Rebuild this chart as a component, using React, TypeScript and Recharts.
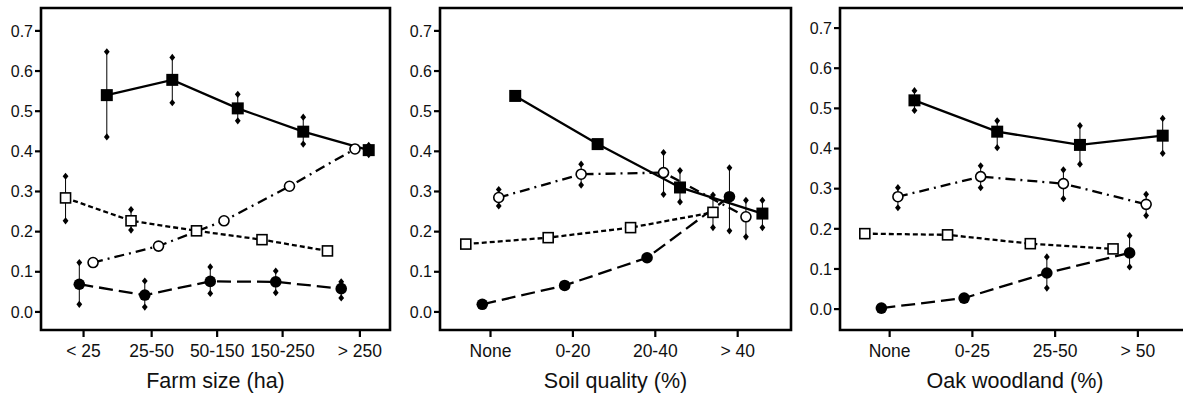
import { ComposedChart, ErrorBar, Line, ReferenceArea, Scatter, XAxis, YAxis } from "recharts";

// categories
const FARM_CATS = ["< 25", "25-50", "50-150", "150-250", "> 250"];
const SOIL_CATS = ["None", "0-20", "20-40", "> 40"];
const OAK_CATS = ["None", "0-25", "25-50", "> 50"];

const Y_TICKS = [0, 0.1, 0.2, 0.3, 0.4, 0.5, 0.6, 0.7];

// farm size panel: values and error bar bounds (null = no bar)
const FARM_FILLED_SQ = [0.54, 0.578, 0.507, 0.449, 0.403];
const FARM_FILLED_SQ_HI = [0.648, 0.634, 0.542, 0.485, 0.415];
const FARM_FILLED_SQ_LO = [0.436, 0.521, 0.476, 0.418, 0.392];
const FARM_OPEN_CIRC = [0.123, 0.164, 0.227, 0.313, 0.406];
const FARM_OPEN_SQ = [0.284, 0.227, 0.202, 0.18, 0.152];
const FARM_OPEN_SQ_HI = [0.338, 0.255, null, null, null];
const FARM_OPEN_SQ_LO = [0.227, 0.204, null, null, null];
const FARM_FILLED_CIRC = [0.069, 0.042, 0.076, 0.075, 0.058];
const FARM_FILLED_CIRC_HI = [0.123, 0.077, 0.112, 0.102, 0.075];
const FARM_FILLED_CIRC_LO = [0.019, 0.012, 0.046, 0.048, 0.035];

// soil quality panel
const SOIL_FILLED_SQ = [0.538, 0.418, 0.31, 0.245];
const SOIL_FILLED_SQ_HI = [null, null, 0.352, 0.278];
const SOIL_FILLED_SQ_LO = [null, null, 0.274, 0.21];
const SOIL_OPEN_CIRC = [0.285, 0.343, 0.347, 0.237];
const SOIL_OPEN_CIRC_HI = [0.305, 0.368, 0.397, 0.278];
const SOIL_OPEN_CIRC_LO = [0.264, 0.316, 0.293, 0.187];
const SOIL_OPEN_SQ = [0.169, 0.185, 0.21, 0.248];
const SOIL_OPEN_SQ_HI = [null, null, null, 0.291];
const SOIL_OPEN_SQ_LO = [null, null, null, 0.21];
const SOIL_FILLED_CIRC = [0.019, 0.066, 0.135, 0.287];
const SOIL_FILLED_CIRC_HI = [null, null, null, 0.359];
const SOIL_FILLED_CIRC_LO = [null, null, null, 0.202];

// oak woodland panel
const OAK_FILLED_SQ = [0.52, 0.442, 0.409, 0.432];
const OAK_FILLED_SQ_HI = [0.544, 0.469, 0.457, 0.475];
const OAK_FILLED_SQ_LO = [0.495, 0.402, 0.361, 0.388];
const OAK_OPEN_CIRC = [0.28, 0.33, 0.3125, 0.261];
const OAK_OPEN_CIRC_HI = [0.3025, 0.357, 0.347, 0.286];
const OAK_OPEN_CIRC_LO = [0.2525, 0.3025, 0.275, 0.233];
const OAK_OPEN_SQ = [0.188, 0.185, 0.163, 0.15];
const OAK_FILLED_CIRC = [0.0025, 0.0275, 0.09, 0.14];
const OAK_FILLED_CIRC_HI = [null, null, 0.13, 0.183];
const OAK_FILLED_CIRC_LO = [null, null, 0.0525, 0.105];

type Bound = (number | null)[];
type Kind = "openSquare" | "filledCircle" | "openCircle" | "filledSquare";
type Series = { name: string; kind: Kind; values: number[]; hi?: Bound; lo?: Bound };

// dodge slot and line dash per marker kind
const STYLE: Record<Kind, { slot: number; dash?: string }> = {
  openSquare: { slot: 0, dash: "5 3" },
  filledCircle: { slot: 1, dash: "14 6" },
  openCircle: { slot: 2, dash: "10 5 2 5" },
  filledSquare: { slot: 3 },
};

function Marker({ cx, cy, kind }: { cx?: number; cy?: number; kind: Kind }) {
  if (cx == null || cy == null) return null;
  if (kind === "filledSquare")
    return <rect x={cx - 6} y={cy - 6} width={12} height={12} fill="#000" />;
  if (kind === "openSquare")
    return (
      <rect x={cx - 5} y={cy - 5} width={10} height={10} fill="#fff" stroke="#000" strokeWidth={1.6} />
    );
  if (kind === "openCircle")
    return <circle cx={cx} cy={cy} r={5} fill="#fff" stroke="#000" strokeWidth={1.6} />;
  return <circle cx={cx} cy={cy} r={5.8} fill="#000" />;
}

function Diamond(props: any) {
  const { cx, cy } = props;
  if (cx == null || cy == null) return null;
  return (
    <polygon
      points={`${cx},${cy - 3.6} ${cx + 2.9},${cy} ${cx},${cy + 3.6} ${cx - 2.9},${cy}`}
      fill="#000"
    />
  );
}

function points(s: Series, dodge: number) {
  const off = (STYLE[s.kind].slot - 1.5) * dodge;
  return s.values.map((v, i) => {
    const h = s.hi?.[i];
    const l = s.lo?.[i];
    return {
      x: i + off,
      y: v,
      err: h != null && l != null ? [v - l, h - v] : undefined,
    };
  });
}

function ends(s: Series, dodge: number) {
  const off = (STYLE[s.kind].slot - 1.5) * dodge;
  const out: { x: number; y: number }[] = [];
  s.values.forEach((_, i) => {
    const h = s.hi?.[i];
    const l = s.lo?.[i];
    if (h != null) out.push({ x: i + off, y: h });
    if (l != null) out.push({ x: i + off, y: l });
  });
  return out;
}

type PanelProps = {
  left: number;
  width: number;
  cats: string[];
  xDomain: [number, number];
  ticks: number[];
  dodge: number;
  yDomain: [number, number];
  title: string;
  series: Series[];
};

function Panel({ left, width, cats, xDomain, ticks, dodge, yDomain, title, series }: PanelProps) {
  return (
    <div style={{ position: "absolute", left, top: 0 }}>
      <ComposedChart width={width} height={397} margin={{ top: 8, right: 2, bottom: 0, left: 0 }}>
        <XAxis
          type="number"
          dataKey="x"
          domain={xDomain}
          allowDataOverflow
          ticks={ticks}
          interval={0}
          tickFormatter={(v: number) => cats[Math.round(v)] ?? ""}
          axisLine={false}
          tickLine={{ stroke: "#000", strokeWidth: 2.2 }}
          tickSize={7}
          tickMargin={8}
          height={67}
          tick={{ fill: "#111", fontSize: 17.5 }}
          label={{ value: title, position: "insideBottom", offset: 9, fill: "#111", fontSize: 21.5 }}
        />
        <YAxis
          type="number"
          dataKey="y"
          domain={yDomain}
          allowDataOverflow
          ticks={Y_TICKS}
          interval={0}
          tickFormatter={(v: number) => v.toFixed(1)}
          axisLine={false}
          tickLine={{ stroke: "#000", strokeWidth: 2.2 }}
          tickSize={6}
          tickMargin={2}
          width={41}
          tick={{ fill: "#111", fontSize: 16 }}
        />
        <ReferenceArea
          x1={xDomain[0]}
          x2={xDomain[1]}
          y1={yDomain[0]}
          y2={yDomain[1]}
          fill="#fff"
          fillOpacity={0}
          stroke="#000"
          strokeWidth={2.6}
        />
        {series.map((s) => (
          <Scatter
            key={s.name + "-ends"}
            data={ends(s, dodge)}
            shape={Diamond}
            isAnimationActive={false}
          />
        ))}
        {series.map((s) => (
          <Line
            key={s.name}
            data={points(s, dodge)}
            dataKey="y"
            type="linear"
            stroke="#000"
            strokeWidth={2.3}
            strokeDasharray={STYLE[s.kind].dash}
            dot={(p: any) => <Marker key={`${s.name}-${p.index}`} cx={p.cx} cy={p.cy} kind={s.kind} />}
            activeDot={false}
            isAnimationActive={false}
          >
            <ErrorBar dataKey="err" width={0} stroke="#000" strokeWidth={1} direction="y" />
          </Line>
        ))}
      </ComposedChart>
    </div>
  );
}

export default function App() {
  const farm: Series[] = [
    { name: "farm-osq", kind: "openSquare", values: FARM_OPEN_SQ, hi: FARM_OPEN_SQ_HI, lo: FARM_OPEN_SQ_LO },
    { name: "farm-fci", kind: "filledCircle", values: FARM_FILLED_CIRC, hi: FARM_FILLED_CIRC_HI, lo: FARM_FILLED_CIRC_LO },
    { name: "farm-oci", kind: "openCircle", values: FARM_OPEN_CIRC },
    { name: "farm-fsq", kind: "filledSquare", values: FARM_FILLED_SQ, hi: FARM_FILLED_SQ_HI, lo: FARM_FILLED_SQ_LO },
  ];
  const soil: Series[] = [
    { name: "soil-osq", kind: "openSquare", values: SOIL_OPEN_SQ, hi: SOIL_OPEN_SQ_HI, lo: SOIL_OPEN_SQ_LO },
    { name: "soil-fci", kind: "filledCircle", values: SOIL_FILLED_CIRC, hi: SOIL_FILLED_CIRC_HI, lo: SOIL_FILLED_CIRC_LO },
    { name: "soil-oci", kind: "openCircle", values: SOIL_OPEN_CIRC, hi: SOIL_OPEN_CIRC_HI, lo: SOIL_OPEN_CIRC_LO },
    { name: "soil-fsq", kind: "filledSquare", values: SOIL_FILLED_SQ, hi: SOIL_FILLED_SQ_HI, lo: SOIL_FILLED_SQ_LO },
  ];
  const oak: Series[] = [
    { name: "oak-osq", kind: "openSquare", values: OAK_OPEN_SQ },
    { name: "oak-fci", kind: "filledCircle", values: OAK_FILLED_CIRC, hi: OAK_FILLED_CIRC_HI, lo: OAK_FILLED_CIRC_LO },
    { name: "oak-oci", kind: "openCircle", values: OAK_OPEN_CIRC, hi: OAK_OPEN_CIRC_HI, lo: OAK_OPEN_CIRC_LO },
    { name: "oak-fsq", kind: "filledSquare", values: OAK_FILLED_SQ, hi: OAK_FILLED_SQ_HI, lo: OAK_FILLED_SQ_LO },
  ];

  return (
    <div
      style={{
        position: "absolute",
        left: 0,
        top: 0,
        width: 1183,
        height: 397,
        overflow: "hidden",
        background: "#fff",
        fontFamily: "'Liberation Sans', Arial, sans-serif",
      }}
    >
      <Panel
        left={0}
        width={392}
        cats={FARM_CATS}
        xDomain={[-0.69, 4.64]}
        ticks={[-0.04, 1, 2, 3, 4.18]}
        dodge={0.21}
        yDomain={[-0.045, 0.757]}
        title="Farm size (ha)"
        series={farm}
      />
      <Panel
        left={399}
        width={394}
        cats={SOIL_CATS}
        xDomain={[-0.613, 3.647]}
        ticks={[0, 1, 2, 3]}
        dodge={0.2}
        yDomain={[-0.045, 0.757]}
        title="Soil quality (%)"
        series={soil}
      />
      <Panel
        left={799}
        width={393}
        cats={OAK_CATS}
        xDomain={[-0.6, 3.63]}
        ticks={[0, 1, 2, 3]}
        dodge={0.2}
        yDomain={[-0.052, 0.75]}
        title="Oak woodland (%)"
        series={oak}
      />
    </div>
  );
}
